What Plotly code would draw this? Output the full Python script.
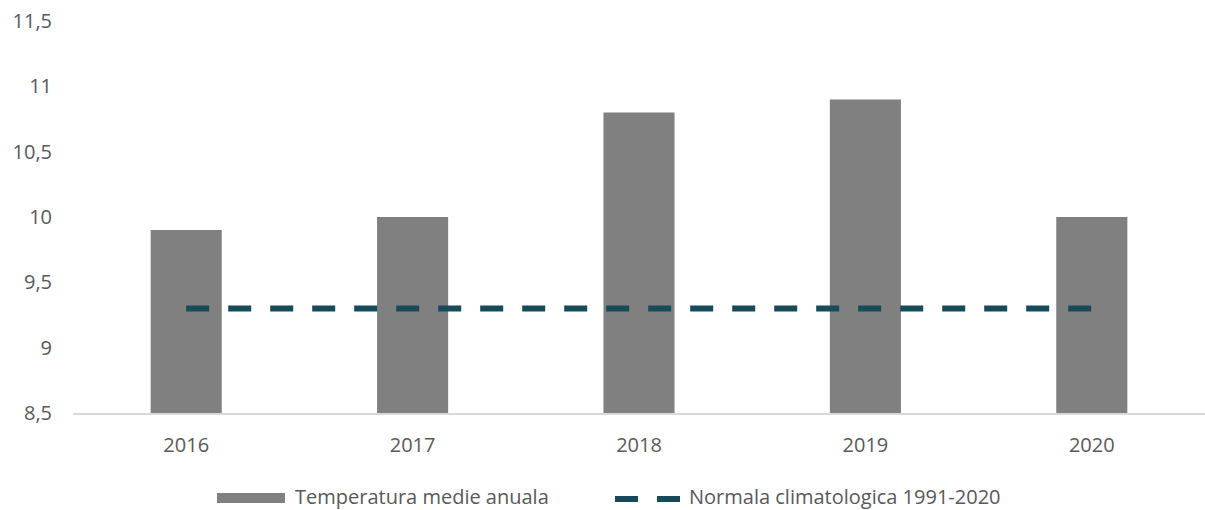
import plotly.graph_objects as go

# Annual mean temperature vs. the 1991-2020 climatological normal
years = ["2016", "2017", "2018", "2019", "2020"]
temperatura_medie = [9.9, 10.0, 10.8, 10.9, 10.0]
normala = [9.3, 9.3, 9.3, 9.3, 9.3]
y_ticks = [8.5, 9, 9.5, 10, 10.5, 11, 11.5]

W, H = 1205, 510
M_L, M_R, M_T, M_B = 73, 0, 21, 97

BAR_COLOR = "#808080"
LINE_COLOR = "#184B5A"
TEXT_COLOR = "#595959"
FONT = "Open Sans"


def px_x(x):
    return (x - M_L) / (W - M_L - M_R)


def px_y(y):
    return (H - M_B - y) / (H - M_T - M_B)


fig = go.Figure()
fig.add_trace(go.Bar(
    x=years, y=temperatura_medie, name="Temperatura medie anuala",
    marker=dict(color=BAR_COLOR, line=dict(width=0)), showlegend=False,
))
fig.add_trace(go.Scatter(
    x=years, y=normala, name="Normala climatologica 1991-2020", mode="lines",
    line=dict(color=LINE_COLOR, width=6, dash="23px,19px"), showlegend=False,
))

# Legend drawn below the axis
leg_y = 497
fig.add_shape(type="rect", xref="paper", yref="paper",
              x0=px_x(217), x1=px_x(285), y0=px_y(503), y1=px_y(493),
              fillcolor=BAR_COLOR, line=dict(width=0))
fig.add_annotation(xref="paper", yref="paper", x=px_x(293), y=px_y(leg_y),
                   xanchor="left", yanchor="middle", showarrow=False,
                   text="Temperatura medie anuala",
                   font=dict(family=FONT, size=20, color=TEXT_COLOR))
fig.add_shape(type="line", xref="paper", yref="paper",
              x0=px_x(615), x1=px_x(680), y0=px_y(499), y1=px_y(499),
              line=dict(color=LINE_COLOR, width=6, dash="23px,19px"))
fig.add_annotation(xref="paper", yref="paper", x=px_x(687), y=px_y(leg_y),
                   xanchor="left", yanchor="middle", showarrow=False,
                   text="Normala climatologica 1991-2020",
                   font=dict(family=FONT, size=20, color=TEXT_COLOR))

fig.update_layout(
    width=W, height=H,
    margin=dict(l=M_L, r=M_R, t=M_T, b=M_B, pad=0),
    paper_bgcolor="white", plot_bgcolor="white",
    separators=", ",
    bargap=0.686,
    font=dict(family=FONT, size=20, color=TEXT_COLOR),
    xaxis=dict(
        type="category", showgrid=False, zeroline=False,
        showline=True, linecolor="#D9D9D9", linewidth=2,
        ticks="", ticklabelstandoff=13,
        tickfont=dict(family=FONT, size=20, color=TEXT_COLOR),
    ),
    yaxis=dict(
        range=[8.5, 11.5], tickvals=y_ticks, showgrid=False, zeroline=False,
        showline=False, ticks="", ticklabelstandoff=20,
        tickfont=dict(family=FONT, size=20, color=TEXT_COLOR),
    ),
)

fig.write_html("out.html")
